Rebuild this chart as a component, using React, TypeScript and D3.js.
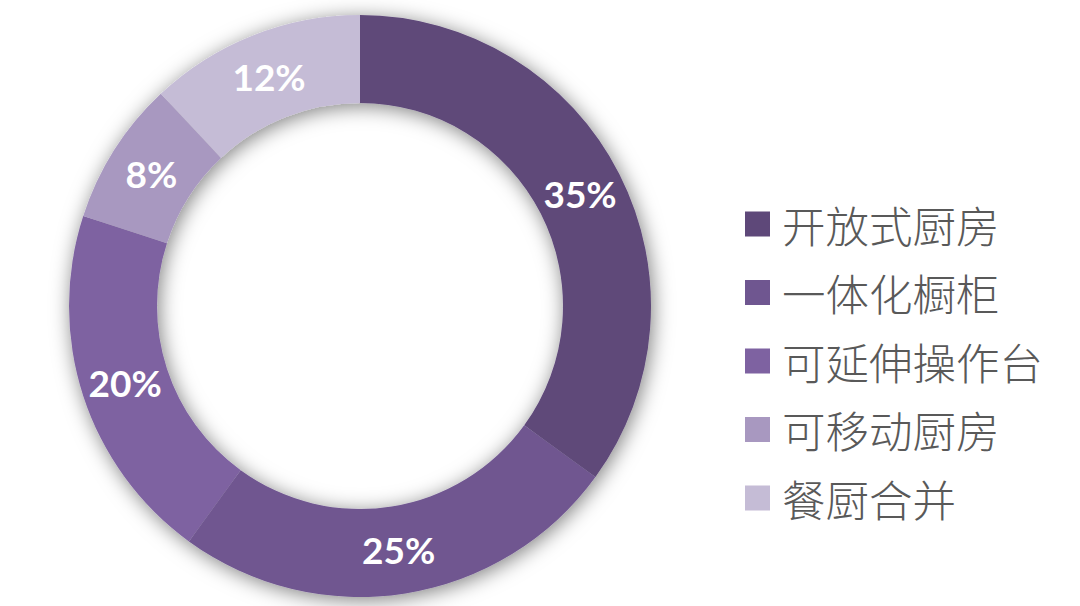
import { useEffect, useRef } from "react";
import * as d3 from "d3";

const categories = ["开放式厨房", "一体化橱柜", "可延伸操作台", "可移动厨房", "餐厨合并"];
const values = [35, 25, 20, 8, 12];
const colors = ["#5e4879", "#6f5690", "#7e62a1", "#a898c0", "#c5bcd6"];

const width = 1080;
const height = 606;

const App = () => {
  const svgRef = useRef<SVGSVGElement | null>(null);

  useEffect(() => {
    const cx = 360;
    const cy = 306;
    const outer = 291;
    const inner = 203;

    const svg = d3.select(svgRef.current);
    svg.selectAll("*").remove();

    const defs = svg.append("defs");
    const shadow = defs
      .append("filter")
      .attr("id", "ringShadow")
      .attr("x", "-20%")
      .attr("y", "-20%")
      .attr("width", "140%")
      .attr("height", "140%");
    shadow
      .append("feDropShadow")
      .attr("dx", 2)
      .attr("dy", 3)
      .attr("stdDeviation", 10)
      .attr("flood-color", "#000")
      .attr("flood-opacity", 0.5);

    const pie = d3
      .pie<number>()
      .sort(null)
      .value((d) => d);
    const arcs = pie(values);

    const arc = d3
      .arc<d3.PieArcDatum<number>>()
      .innerRadius(inner)
      .outerRadius(outer);

    const g = svg.append("g").attr("transform", `translate(${cx},${cy})`);

    g.append("g")
      .attr("filter", "url(#ringShadow)")
      .selectAll("path")
      .data(arcs)
      .join("path")
      .attr("d", arc)
      .attr("fill", (_, i) => colors[i]);

    g.selectAll("text")
      .data(arcs)
      .join("text")
      .attr("transform", (d) => `translate(${arc.centroid(d)})`)
      .attr("text-anchor", "middle")
      .attr("dominant-baseline", "central")
      .attr("fill", "#fff")
      .attr("font-family", "Lato, 'Open Sans', sans-serif")
      .attr("font-weight", 700)
      .attr("font-size", 37)
      .text((d) => `${d.data}%`);

    const y = d3
      .scalePoint<string>()
      .domain(categories)
      .range([224, 498]);

    const legend = svg
      .append("g")
      .selectAll("g")
      .data(categories)
      .join("g")
      .attr("transform", (d) => `translate(745,${y(d)})`);

    legend
      .append("rect")
      .attr("x", 0)
      .attr("y", -12.5)
      .attr("width", 25)
      .attr("height", 25)
      .attr("fill", (_, i) => colors[i]);

    legend
      .append("text")
      .attr("x", 37)
      .attr("y", 0)
      .attr("dominant-baseline", "central")
      .attr("fill", "#595959")
      .attr("font-family", "'Noto Sans CJK SC', sans-serif")
      .attr("font-weight", 300)
      .attr("font-size", 43.5)
      .text((d) => d);
  }, []);

  return (
    <svg
      ref={svgRef}
      width={width}
      height={height}
      viewBox={`0 0 ${width} ${height}`}
      style={{ position: "absolute", left: 0, top: 0, background: "#fff" }}
    />
  );
};

export default App;
